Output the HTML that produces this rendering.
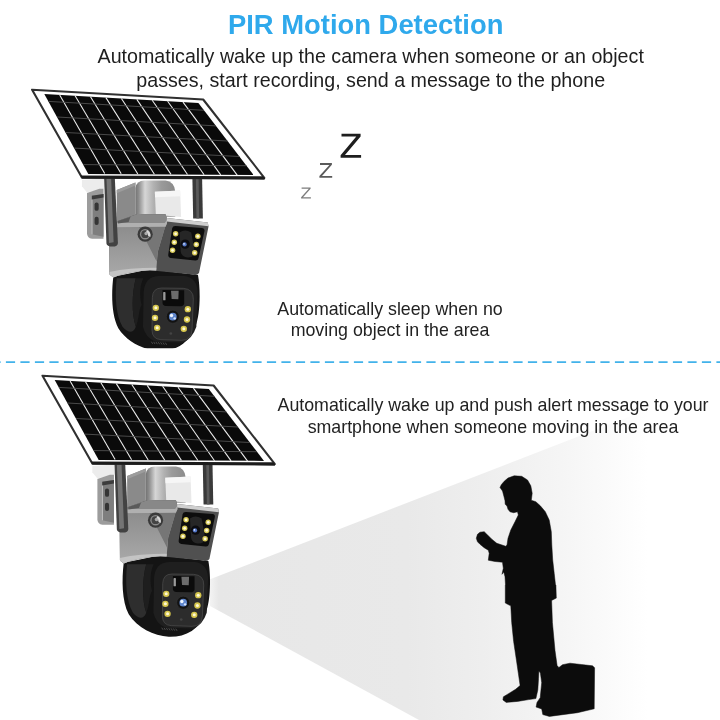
<!DOCTYPE html>
<html><head><meta charset="utf-8">
<style>
html,body{margin:0;padding:0;background:#fff;}
body{width:720px;height:720px;position:relative;overflow:hidden;font-family:"Liberation Sans",sans-serif;}
.t{will-change:transform;position:absolute;white-space:nowrap;text-align:center;color:#222;}
#title{left:0;width:731.4px;top:9px;font-size:27.4px;line-height:31px;font-weight:bold;color:#2fa9ec;}
#sub{left:0;width:741.4px;top:43.5px;font-size:19.66px;line-height:24px;color:#1e1e1e;}
#sleep{left:189.6px;width:400px;top:298.6px;font-size:17.8px;line-height:21.4px;color:#222;}
#wake{left:192.7px;width:600px;top:395.3px;font-size:17.8px;line-height:21.8px;color:#222;}
svg{position:absolute;left:0;top:0;}
</style></head><body>
<svg width="720" height="720" viewBox="0 0 720 720">
<defs>
<linearGradient id="cone" gradientUnits="userSpaceOnUse" x1="210" y1="0" x2="648" y2="0">
<stop offset="0" stop-color="#f3f3f3"/><stop offset="0.02" stop-color="#e7e7e7"/><stop offset="0.45" stop-color="#e9e9e9"/><stop offset="0.62" stop-color="#eeeeee"/><stop offset="0.8" stop-color="#f5f5f5"/><stop offset="0.92" stop-color="#fbfbfb"/><stop offset="1" stop-color="#ffffff"/>
</linearGradient>
<linearGradient id="cyl" x1="0" y1="0" x2="1" y2="0">
<stop offset="0" stop-color="#747474"/><stop offset="0.08" stop-color="#8c8c8c"/><stop offset="0.24" stop-color="#d6d6d6"/><stop offset="0.45" stop-color="#b2b2b2"/><stop offset="0.65" stop-color="#9a9a9a"/><stop offset="1" stop-color="#8a8a8a"/>
</linearGradient>
<linearGradient id="face" x1="0" y1="0" x2="0" y2="1"><stop offset="0" stop-color="#8c8c8c"/><stop offset="1" stop-color="#aaaaaa"/></linearGradient>
<clipPath id="clip1"><rect x="0" y="0" width="720" height="348.3"/></clipPath>
<g id="cam">
 <!-- zoom A coords: origin (80,170) scale 1/5.143 -->
 <g transform="translate(80,170) scale(0.19444)">
  <polygon points="10,52 125,44 125,96 36,116 10,84" fill="#ececec"/>
  <path d="M36,118 L100,96 L121,96 L121,353 L62,353 Q36,350 36,325 Z" fill="#9c9c9c"/>
  <polygon points="61,133 121,124 121,343 61,331" fill="#7e7e7e"/>
  <polygon points="61,133 121,124 121,142 61,152" fill="#3c3c3c"/>
  <line x1="62" y1="152" x2="62" y2="331" stroke="#cfcfcf" stroke-width="4"/>
  <rect x="75" y="167" width="21" height="43" rx="10" fill="#343434"/>
  <rect x="75" y="241" width="21" height="42" rx="10" fill="#343434"/>
  <polygon points="189,103 285,64 285,240 189,278" fill="#8a8a8a"/>
  <polygon points="189,103 285,64 285,80 189,120" fill="#9c9c9c"/>
  <path d="M285,240 L285,92 Q290,56 332,54 L440,54 Q485,60 490,110 L490,240 Z" fill="url(#cyl)"/>
  <polygon points="385,112 515,105 520,242 390,230" fill="#e9e9e9"/>
  <polygon points="385,112 515,105 516,135 386,140" fill="#f6f6f6"/>
  <polygon points="578,42 628,42 632,250 582,250" fill="#3a3a3a"/>
  <polygon points="596,42 610,42 613,250 599,250" fill="#5a5a5a"/>
 </g>
 <!-- zoom B coords: origin (100,260) scale 1/6 : dome -->
 <g transform="translate(100,260) scale(0.166667)">
  <path d="M80,100 C68,200 68,330 110,410 C160,490 260,540 350,545 C450,548 535,500 572,400 C602,330 604,180 588,90 L300,55 Z" fill="#141414"/>
  <path d="M100,110 C88,220 95,330 135,400 C170,440 200,440 215,400 C190,330 190,200 215,110 Z" fill="#2e2e2e"/>
  <path d="M215,110 C190,200 190,330 215,400 C235,360 230,300 250,270 C235,210 240,150 260,110 Z" fill="#1e1e1e"/>
 </g>
 <g transform="translate(80,170) scale(0.19444)">
  <path d="M195,262 L295,226 L440,228 L446,247 L657,270 L661,290 L612,530 Q600,546 580,537 L360,516 Q250,520 172,553 L152,538 L150,300 Z" fill="#505050"/>
  <path d="M150,285 L440,285 L400,420 L392,517 L360,516 Q250,520 172,553 L152,538 Z" fill="url(#face)"/>
  <path d="M300,285 L440,285 L400,420 L394,470 Z" fill="#767676"/>
  <path d="M152,538 L172,553 Q250,520 360,516 L392,517 L393,503 Q250,503 152,524 Z" fill="#c4c4c4"/>
  <path d="M195,262 L295,226 L440,228 L446,247 L448,272 L440,288 L150,288 L150,300 Z" fill="#888"/>
  <path d="M150,290 L195,272 L300,272 L436,272 L446,258 L448,274 L440,292 L150,294 Z" fill="#b0b0b0"/>
  <path d="M195,262 L260,240 L250,268 L195,275 Z" fill="#5a5a5a"/>
  <path d="M446,247 L657,270 L661,289 L446,265 Z" fill="#cfcfcf"/>
  <circle cx="335" cy="330" r="39" fill="#3a3a3a"/><circle cx="335" cy="330" r="27" fill="#8a8a8a"/><circle cx="335" cy="330" r="20" fill="#444"/><circle cx="340" cy="326" r="9" fill="#aaa"/><path d="M345,308 Q366,318 362,345 L350,338 Q352,322 340,316 Z" fill="#d8d8d8"/>
  <path d="M124,40 L179,40 L195,375 Q195,394 166,394 Q138,394 136,378 Z" fill="#424242"/>
  <path d="M136,40 L160,40 L173,372 L149,376 Z" fill="#747474"/>
  <path d="M492,288 L628,298 Q643,300 640,315 L610,452 Q606,467 592,465 L468,452 Q452,450 454,435 L474,300 Q477,287 492,288Z" fill="#0d0d0d"/>
  <path d="M512,322 Q540,300 572,322 L590,420 Q585,452 552,450 Q522,446 518,420 Z" fill="#262626"/>
  <circle cx="541" cy="381" r="24" fill="#0c0c10"/><circle cx="538" cy="383" r="11" fill="#5578c8"/><circle cx="535" cy="380" r="4" fill="#e8f0ff"/>
  <g fill="#d8ca58"><circle cx="492" cy="328" r="14"/><circle cx="485" cy="372" r="14"/><circle cx="476" cy="413" r="14"/><circle cx="606" cy="341" r="14"/><circle cx="598" cy="383" r="14"/><circle cx="590" cy="426" r="14"/></g>
  <g fill="#fffbe0"><circle cx="492" cy="328" r="7"/><circle cx="485" cy="372" r="7"/><circle cx="476" cy="413" r="7"/><circle cx="606" cy="341" r="7"/><circle cx="598" cy="383" r="7"/><circle cx="590" cy="426" r="7"/></g>
 </g>
 <g transform="translate(100,260) scale(0.166667)">
  <path d="M258,400 L262,190 Q270,100 350,96 L505,96 Q582,105 586,190 L578,400 Q555,470 498,495 L330,490 Q270,460 258,400Z" fill="#1f1f1f"/>
  <path d="M370,168 L500,170 Q562,175 560,235 L552,420 Q548,482 490,482 L365,478 Q312,474 312,420 L314,225 Q316,168 370,168Z" fill="#2c2c2c" stroke="#505050" stroke-width="4"/>
  <path d="M375,180 L505,182 L505,262 Q500,278 480,278 L395,276 Q376,274 375,258 Z" fill="#0b0b0b"/>
  <rect x="379" y="192" width="14" height="50" rx="4" fill="#9a9a9a"/>
  <path d="M426,184 L472,185 L470,236 L430,234 Z" fill="#6c6c6c"/>
  <circle cx="437" cy="340" r="39" fill="#121212" stroke="#3a3a3a" stroke-width="3"/><circle cx="437" cy="340" r="23" fill="#5f86cc"/><circle cx="429" cy="333" r="10" fill="#eef5ff"/><circle cx="448" cy="350" r="7" fill="#d4e4ff"/>
  <g fill="#d6c64c"><circle cx="335" cy="287" r="19"/><circle cx="330" cy="347" r="19"/><circle cx="343" cy="407" r="19"/><circle cx="527" cy="295" r="19"/><circle cx="522" cy="357" r="19"/><circle cx="503" cy="413" r="19"/></g>
  <g fill="#fffad8"><circle cx="335" cy="287" r="9"/><circle cx="330" cy="347" r="9"/><circle cx="343" cy="407" r="9"/><circle cx="527" cy="295" r="9"/><circle cx="522" cy="357" r="9"/><circle cx="503" cy="413" r="9"/></g>
  <circle cx="425" cy="441" r="8" fill="#444"/>
  <g stroke="#555" stroke-width="5"><line x1="308" y1="490" x2="316" y2="503"/><line x1="322" y1="491" x2="330" y2="504"/><line x1="336" y1="492" x2="344" y2="505"/><line x1="350" y1="493" x2="358" y2="506"/><line x1="364" y1="494" x2="372" y2="507"/><line x1="378" y1="495" x2="386" y2="508"/><line x1="392" y1="496" x2="400" y2="509"/></g>
 </g>
 <!-- solar panel in real coords -->
 <polygon points="32.1,89.7 203.2,99.5 264.3,177.8 264,178.4 81.9,177.6" fill="#fff" stroke="#303030" stroke-width="2.1" stroke-linejoin="round"/>
 <polygon points="80.3,175.5 262.8,176.2 265.2,178.5 264.4,179.4 82.2,178.6" fill="#1c1c1c"/>
 <polygon points="44.3,94 198.4,103 253.6,174.9 88.3,174.1" fill="#0a0a0a"/>
 <g stroke="#efefef" stroke-width="1.05">
  <line x1="59.7" y1="94.9" x2="104.7" y2="173.6"/><line x1="75.1" y1="95.8" x2="121.2" y2="173.8"/><line x1="90.5" y1="96.7" x2="137.8" y2="174"/><line x1="105.9" y1="97.6" x2="154.4" y2="174.2"/><line x1="121.4" y1="98.5" x2="171" y2="174.4"/><line x1="136.8" y1="99.4" x2="187.5" y2="174.5"/><line x1="152.2" y1="100.3" x2="204.1" y2="174.7"/><line x1="167.6" y1="101.2" x2="220.7" y2="174.9"/><line x1="183" y1="102.1" x2="237.2" y2="175.1"/>
 </g>
 <g stroke="#505050" stroke-width="0.9">
  <line x1="48.4" y1="101.4" x2="204" y2="110.3"/><line x1="57.1" y1="117" x2="216" y2="125.9"/><line x1="65.7" y1="132.5" x2="227.5" y2="141"/><line x1="74.4" y1="148.1" x2="239.4" y2="156.5"/><line x1="83.4" y1="164.6" x2="246.5" y2="165.7"/>
 </g>
</g>
</defs>
<!-- dashed line -->
<line x1="-8.6" y1="362.1" x2="720" y2="362.1" stroke="#42b2ea" stroke-width="1.9" stroke-dasharray="9.2 5.3"/>
<!-- cone -->
<polygon points="210,579.2 210,606 419,720 720,720 720,381.6" fill="url(#cone)"/>
<g clip-path="url(#clip1)"><use href="#cam"/></g>
<use href="#cam" x="10.4" y="286"/>
<!-- Zs -->
<polygon fill="#1e1e1e" points="341.5,133.7 360.6,133.7 360.6,136.5 345,154.9 361.1,154.9 361.1,157.8 340.6,157.8 340.6,155.2 356.3,136.6 341.5,136.6"/>
<polygon fill="#5a5a5a" points="320,163.1 331.9,163.1 331.9,164.8 322,176 332.2,176 332.2,177.8 319.4,177.8 319.4,176.1 329.4,164.9 320,164.9"/>
<polygon fill="#7c7c7c" points="301.6,187.4 310.6,187.4 310.6,188.7 303,197.3 310.9,197.3 310.9,198.6 301.1,198.6 301.1,197.3 308.8,188.7 301.6,188.7"/>
<!-- person -->
<path fill="#0c0c0c" stroke="#0c0c0c" stroke-width="0.5" stroke-linejoin="round" d="M500.0,487.5 L501.3,484.7 L504.2,481.3 L508.0,478.0 L514.2,475.8 L521.7,476.3 L527.5,480.0 L530.8,485.8 L532.2,493.3 L531.3,500.3 L535.8,501.7 L540.3,505.8 L545.3,511.7 L549.2,520.0 L551.3,531.7 L551.8,545.0 L552.7,560.0 L554.2,573.3 L555.5,585.0 L555.9,585.0 L556.3,598.1 L551.6,600.4 L552.4,622.5 L555.0,650.6 L557.1,665.6 L558.9,667.5 L562.5,664.7 L570.0,663.2 L581.3,664.5 L592.5,665.8 L594.6,667.7 L594.2,708.8 L577.5,712.7 L549.4,716.4 L542.8,714.6 L541.7,708.9 L536.1,707.1 L537.0,702.4 L540.2,697.7 L541.7,682.7 L540.4,673.1 L538.9,670.9 L538.5,678.8 L537.8,690.0 L535.9,698.6 L528.8,699.6 L517.5,701.4 L506.3,702.4 L502.9,699.9 L503.4,696.8 L508.1,693.9 L515.6,689.3 L520.1,685.5 L518.3,673.1 L516.4,660.0 L513.6,641.3 L511.7,622.5 L510.8,605.8 L509.6,605.3 L505.3,603.0 L505.3,585.0 L505.5,585.0 L505.0,576.7 L503.8,572.0 L502.0,574.3 L503.3,568.3 L502.5,562.2 L495.0,561.5 L488.3,560.2 L489.2,553.3 L488.3,550.2 L484.2,547.7 L480.0,544.3 L477.5,541.8 L476.3,538.3 L477.5,534.3 L480.0,532.2 L484.2,531.7 L486.8,534.2 L491.8,539.2 L496.8,543.3 L505.7,546.2 L507.0,545.0 L508.0,538.3 L510.8,530.0 L515.0,521.7 L518.3,515.0 L517.5,511.8 L513.7,512.7 L510.0,511.8 L508.0,509.3 L507.0,506.0 L505.2,504.3 L505.0,500.8 L504.0,496.7 L502.5,491.0 Z"/>
</svg>
<div id="title" class="t">PIR Motion Detection</div>
<div id="sub" class="t">Automatically wake up the camera when someone or an object<br>passes, start recording, send a message to the phone</div>
<div id="sleep" class="t">Automatically sleep when no<br>moving object in the area</div>
<div id="wake" class="t">Automatically wake up and push alert message to your<br>smartphone when someone moving in the area</div>
</body></html>
